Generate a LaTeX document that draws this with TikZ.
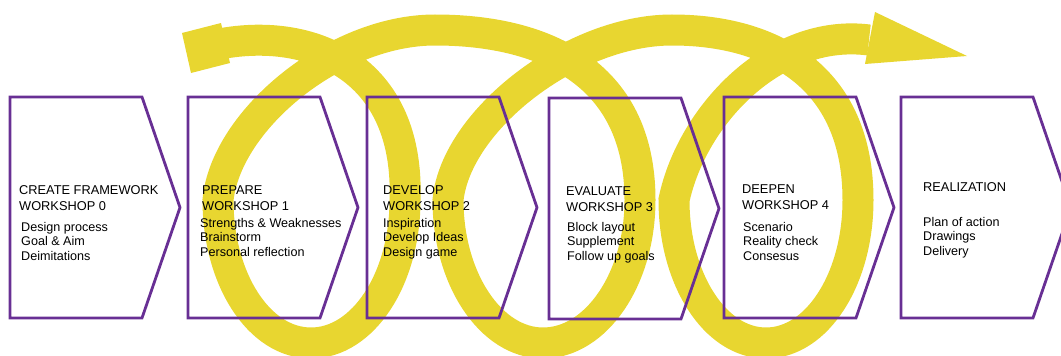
\documentclass[tikz,border=0pt]{standalone}
\usepackage{fontspec}
\setmainfont{Liberation Sans}

\definecolor{coilyellow}{RGB}{232,214,48}
\definecolor{stagepurple}{RGB}{104,47,148}

\tikzstyle{coil} = [draw = coilyellow, line width = 31pt, line cap = butt]
\tikzstyle{stage} = [draw = stagepurple, line width = 2.8pt, line join = miter]
\tikzstyle{stagehead} = [anchor = base west, align = left, inner sep = 0pt, font = \fontsize{12.8}{16}\selectfont]
\tikzstyle{stagebody} = [anchor = base west, align = left, inner sep = 0pt, font = \fontsize{12.6}{14.2}\selectfont]

\begin{document}
\begin{tikzpicture}[x = 1pt, y = -1pt]
        \useasboundingbox (0,0) rectangle (1061,356);
        \clip (0,0) rectangle (1061,356);
        \def\w{132}
        \def\p{38}
        \def\h{110.5}

        % the coil
        \coordinate (tail) at (206,47);
        \coordinate (r1) at (405,200);
        \coordinate (b1) at (311,343);
        \coordinate (l1) at (218,200);
        \coordinate (t1) at (435,30);
        \coordinate (r2) at (640,200);
        \coordinate (b2) at (543,343);
        \coordinate (l2) at (448,200);
        \coordinate (t2) at (672,30);
        \coordinate (r3) at (858,200);
        \coordinate (b3) at (766,343);
        \coordinate (l3) at (674,200);
        \coordinate (shaft) at (869,40);

        \fill[coilyellow] (182,33) -- (221,23) -- (230,63) -- (191,73) -- cycle;
        \path[coil] (tail) .. controls +(94,-24) and +(5,-140) .. (r1)
            .. controls +(0,79) and +(52,0) .. (b1)
            .. controls +(-52,0) and +(0,79) .. (l1)
            .. controls +(8,-80) and +(-100,0) .. (t1)
            .. controls +(105,0) and +(0,-130) .. (r2)
            .. controls +(0,79) and +(53,0) .. (b2)
            .. controls +(-52,0) and +(0,79) .. (l2)
            .. controls +(8,-80) and +(-100,0) .. (t2)
            .. controls +(98,0) and +(0,-125) .. (r3)
            .. controls +(0,79) and +(51,0) .. (b3)
            .. controls +(-51,0) and +(0,79) .. (l3)
            .. controls +(18,-85) and +(-94,-12) .. (shaft);
        \coordinate (tip) at (967,56);
        \fill[coilyellow] (875,12) -- (tip) -- (865,64) -- cycle;

        % the stages
        \coordinate (s0) at (10,97);
        \coordinate (s1) at (188,97);
        \coordinate (s2) at (367,97);
        \coordinate (s3) at (549,98);
        \coordinate (s4) at (724,97);
        \coordinate (s5) at (901,97);

        \path[stage] (s0) -- ++(\w,0) -- ++(\p,\h) -- ++(-\p,\h) -- ++(-\w,0) -- cycle;
        \path[stage] (s1) -- ++(\w,0) -- ++(\p,\h) -- ++(-\p,\h) -- ++(-\w,0) -- cycle;
        \path[stage] (s2) -- ++(\w,0) -- ++(\p,\h) -- ++(-\p,\h) -- ++(-\w,0) -- cycle;
        \path[stage] (s3) -- ++(\w,0) -- ++(\p,\h) -- ++(-\p,\h) -- ++(-\w,0) -- cycle;
        \path[stage] (s4) -- ++(\w,0) -- ++(\p,\h) -- ++(-\p,\h) -- ++(-\w,0) -- cycle;
        \path[stage] (s5) -- ++(\w,0) -- ++(\p,\h) -- ++(-\p,\h) -- ++(-\w,0) -- cycle;

        % texts sit on the baseline of their last line
        \node[stagehead] (h0) at (19,210) {CREATE FRAMEWORK\\WORKSHOP 0};
        \node[stagebody] (d0) at (21,260) {Design process\\Goal \& Aim\\Deimitations};

        \node[stagehead] (h1) at (202,210) {PREPARE\\WORKSHOP 1};
        \node[stagebody] (d1) at (200,256) {Strengths \& Weaknesses\\Brainstorm\\Personal reflection};

        \node[stagehead] (h2) at (383,210) {DEVELOP\\WORKSHOP 2};
        \node[stagebody] (d2) at (383,256) {Inspiration\\Develop Ideas\\Design game};

        \node[stagehead] (h3) at (566,211) {EVALUATE\\WORKSHOP 3};
        \node[stagebody] (d3) at (567,260) {Block layout\\Supplement\\Follow up goals};

        \node[stagehead] (h4) at (742,209) {DEEPEN\\WORKSHOP 4};
        \node[stagebody] (d4) at (743,260) {Scenario\\Reality check\\Consesus};

        \node[stagehead] (h5) at (923,191) {REALIZATION};
        \node[stagebody] (d5) at (923,255) {Plan of action\\Drawings\\Delivery};
    \end{tikzpicture}
\end{document}
